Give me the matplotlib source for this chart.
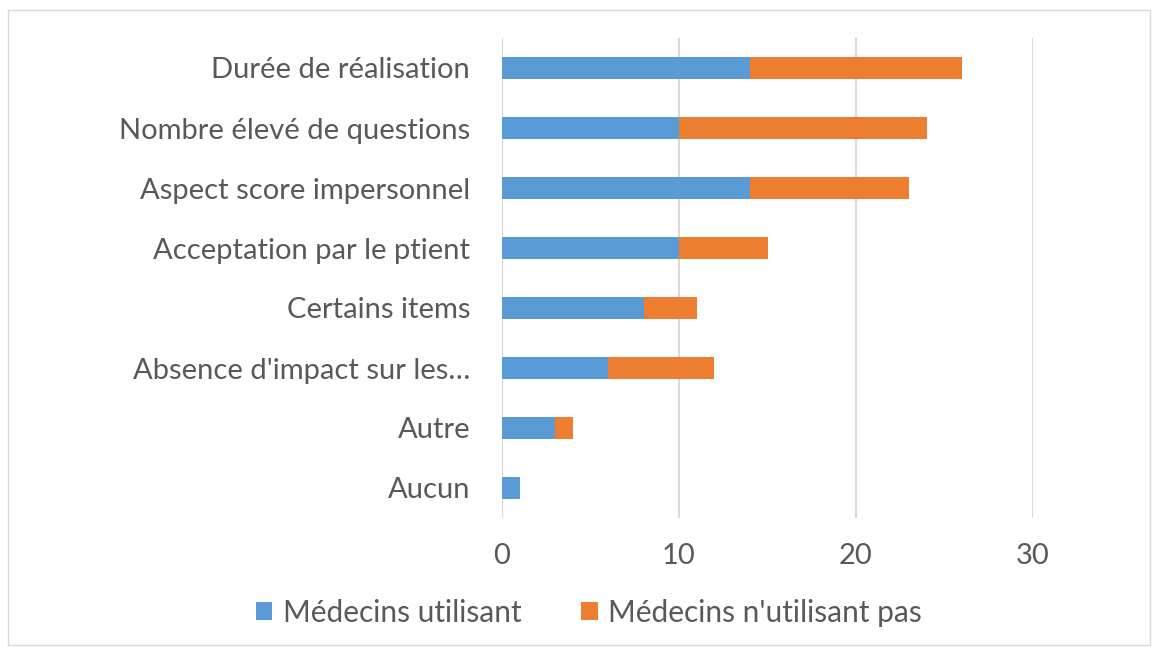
import matplotlib
matplotlib.use("Agg")
import matplotlib.pyplot as plt
from matplotlib.patches import Rectangle

categories = ["Durée de réalisation", "Nombre élevé de questions", "Aspect score impersonnel",
              "Acceptation par le ptient", "Certains items", "Absence d'impact sur les…",
              "Autre", "Aucun"]
utilisant = [14, 10, 14, 10, 8, 6, 3, 1]
non_utilisant = [12, 14, 9, 5, 3, 6, 1, 0]
series_names = ["Médecins utilisant", "Médecins n'utilisant pas"]
xticks = [0, 10, 20, 30]

plt.rcParams['font.family'] = ['Lato', 'DejaVu Sans']
text_color = "#595959"
blue = "#5B9BD5"
orange = "#ED7D31"

fig = plt.figure(figsize=(11.58, 6.5), dpi=100)
fig.patches.append(Rectangle((8/1158, 1-645/650), 1142/1158, 635/650, transform=fig.transFigure,
                             fill=False, edgecolor="#D9D9D9", linewidth=1))
ax = fig.add_axes([502/1158, 1-518/650, (1033-502)/1158, 480/650])

y = list(range(len(categories)))
ax.barh(y, utilisant, height=0.38, color=blue, label=series_names[0], zorder=3)
ax.barh(y, non_utilisant, left=utilisant, height=0.38, color=orange, label=series_names[1], zorder=3)

ax.set_ylim(len(categories) - 0.5, -0.5)
ax.set_xlim(0, 30)
ax.set_xticks(xticks)
ax.set_yticks(y)
ax.set_yticklabels(categories)
ax.grid(axis="x", color="#D9D9D9", linewidth=1.5, zorder=0)
for s in ax.spines.values():
    s.set_visible(False)
ax.tick_params(axis="both", length=0, labelsize=21, colors=text_color)
ax.tick_params(axis="y", pad=23)
ax.tick_params(axis="x", pad=18)

leg = fig.legend(loc="center", bbox_to_anchor=(589/1158, 1-613/650), ncol=2, frameon=False,
                 fontsize=21.5, handlelength=0.55, handleheight=0.55, handletextpad=0.35,
                 columnspacing=2.0)
for t in leg.get_texts():
    t.set_color(text_color)

fig.savefig("out.png", dpi=100)
